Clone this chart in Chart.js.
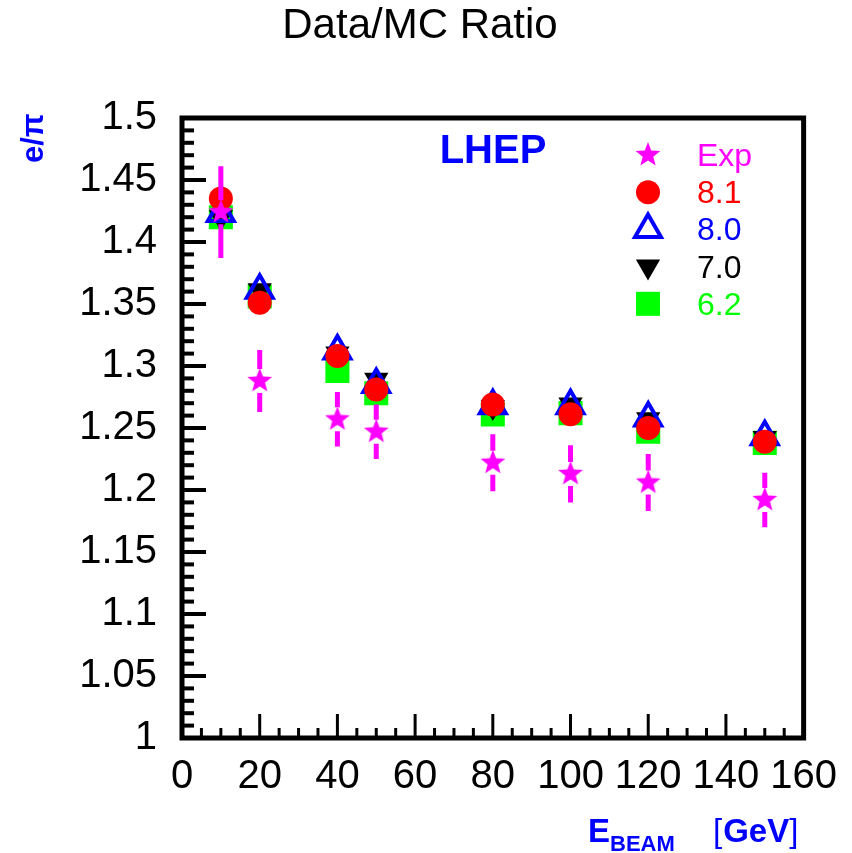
<!DOCTYPE html>
<html lang="en">
<head>
    <meta charset="UTF-8">
    <title>Data/MC Ratio</title>
    <script src="https://cdn.jsdelivr.net/npm/chart.js"></script>
    <style>
        body { margin: 0; background: #fff; }
    </style>
</head>
<body>
    <canvas id="ratioChart" width="852" height="853"></canvas>

    <script>
        // beam energies (GeV)
        const beamEnergy = [10, 20, 40, 50, 80, 100, 120, 150];

        // e/pi ratio, data and the four MC versions
        const expRatio = [1.424, 1.288, 1.257, 1.247, 1.222, 1.213, 1.206, 1.192];
        const expError = [0.037, 0.025, 0.022, 0.022, 0.023, 0.023, 0.023, 0.022];
        const mc81 = [1.435, 1.351, 1.308, 1.281, 1.269, 1.261, 1.250, 1.239];
        const mc80 = [1.423, 1.361, 1.312, 1.285, 1.268, 1.268, 1.258, 1.243];
        const mc70 = [1.420, 1.361, 1.310, 1.289, 1.267, 1.269, 1.257, 1.242];
        const mc62 = [1.420, 1.356, 1.296, 1.278, 1.261, 1.262, 1.247, 1.238];

        const seriesNames = ["Exp", "8.1", "8.0", "7.0", "6.2"];
        const seriesColors = ["#ff00ff", "#ff0000", "#0000ff", "#000000", "#00ff00"];

        const xTickValues = [0, 20, 40, 60, 80, 100, 120, 140, 160];
        const yTickValues = [1, 1.05, 1.1, 1.15, 1.2, 1.25, 1.3, 1.35, 1.4, 1.45, 1.5];

        const FONT = "'Liberation Sans', Arial, sans-serif";

        function toPoints(ys) {
            return beamEnergy.map((x, i) => ({ x: x, y: ys[i] }));
        }

        // filled five-point star, used as a point style
        function makeStar(color, outer, inner) {
            let c = document.createElement("canvas");
            let s = Math.ceil(outer * 2 + 2);
            c.width = s; c.height = s;
            let g = c.getContext("2d");
            g.fillStyle = color;
            g.beginPath();
            for (let k = 0; k < 10; k++) {
                let r = k % 2 ? inner : outer;
                let a = -Math.PI / 2 + k * Math.PI / 5;
                g.lineTo(s / 2 + r * Math.cos(a), s / 2 + r * Math.sin(a));
            }
            g.closePath();
            g.fill();
            return c;
        }
        const star = makeStar("#ff00ff", 13, 5.5);

        const markers = [
            { pointStyle: star, pointRadius: 13, pointBackgroundColor: "#ff00ff", pointBorderWidth: 0 },
            { pointStyle: "circle", pointRadius: 12, pointBackgroundColor: "#ff0000", pointBorderWidth: 0 },
            { pointStyle: "triangle", pointRadius: 15, pointBackgroundColor: "rgba(0,0,0,0)", pointBorderColor: "#0000ff", pointBorderWidth: 4 },
            { pointStyle: "triangle", pointRotation: 180, pointRadius: 14, pointBackgroundColor: "#000000", pointBorderWidth: 0 },
            { pointStyle: "rect", pointRadius: 17, pointBackgroundColor: "#00ff00", pointBorderWidth: 0 }
        ];
        const seriesValues = [expRatio, mc81, mc80, mc70, mc62];

        const datasets = seriesValues.map((vals, i) => Object.assign({
            label: seriesNames[i],
            data: toPoints(vals),
            showLine: false
        }, markers[i]));

        // error bars for Exp, drawn just before the stars so they sit over the MC markers
        const errorBars = {
            id: "errorBars",
            beforeDatasetDraw(chart, args) {
                if (args.index !== 0) return;
                let ctx = chart.ctx, xs = chart.scales.x, ys = chart.scales.y;
                ctx.save();
                ctx.strokeStyle = "#ff00ff";
                ctx.lineWidth = 5;
                beamEnergy.forEach((e, i) => {
                    let px = xs.getPixelForValue(e);
                    let pc = ys.getPixelForValue(expRatio[i]);
                    let pt = ys.getPixelForValue(expRatio[i] + expError[i]);
                    let pb = ys.getPixelForValue(expRatio[i] - expError[i]);
                    ctx.beginPath();
                    ctx.moveTo(px, pt); ctx.lineTo(px, pc - 12);
                    ctx.moveTo(px, pc + 12); ctx.lineTo(px, pb);
                    ctx.stroke();
                });
                ctx.restore();
            }
        };

        // frame, inward ticks, titles and legend
        const decorations = {
            id: "decorations",
            afterDraw(chart) {
                let ctx = chart.ctx, a = chart.chartArea;
                let xs = chart.scales.x, ys = chart.scales.y;
                ctx.save();
                ctx.strokeStyle = "#000";

                // y ticks (major every 0.05, minor every 0.01)
                for (let i = 0; i <= 50; i++) {
                    let py = ys.getPixelForValue(1 + i * 0.01);
                    let major = i % 5 === 0;
                    ctx.lineWidth = 4;
                    ctx.beginPath();
                    ctx.moveTo(a.left, py);
                    ctx.lineTo(a.left + (major ? 24 : 12), py);
                    ctx.stroke();
                }
                // x ticks (major every 20, minor every 5)
                for (let i = 0; i <= 32; i++) {
                    let px = xs.getPixelForValue(i * 5);
                    let major = i % 4 === 0;
                    ctx.lineWidth = 3;
                    ctx.beginPath();
                    ctx.moveTo(px, a.bottom);
                    ctx.lineTo(px, a.bottom - (major ? 24 : 10));
                    ctx.stroke();
                }
                ctx.lineWidth = 5;
                ctx.strokeRect(a.left, a.top, a.right - a.left, a.bottom - a.top);

                // title
                ctx.fillStyle = "#000";
                ctx.textAlign = "center";
                ctx.textBaseline = "alphabetic";
                ctx.font = "42px " + FONT;
                ctx.fillText("Data/MC Ratio", 420, 38);

                ctx.fillStyle = "#0000ff";
                ctx.font = "bold 40px " + FONT;
                ctx.fillText("LHEP", 493, 163);

                // y title
                ctx.save();
                ctx.translate(43, 163);
                ctx.rotate(-Math.PI / 2);
                ctx.textAlign = "left";
                ctx.font = "bold 31px " + FONT;
                ctx.fillText("e/\u03c0", 0, 0);
                ctx.restore();

                // x title
                ctx.textAlign = "left";
                let x = 588;
                ctx.font = "bold 33px " + FONT;
                ctx.fillText("E", x, 842);
                x += ctx.measureText("E").width;
                ctx.font = "bold 22px " + FONT;
                ctx.fillText("BEAM", x, 851);
                x = 713;
                ctx.font = "33px " + FONT;
                ctx.fillText("[", x, 842);
                x += ctx.measureText("[").width + 1;
                ctx.font = "bold 33px " + FONT;
                ctx.fillText("GeV", x, 842);
                x += ctx.measureText("GeV").width;
                ctx.font = "33px " + FONT;
                ctx.fillText("]", x, 842);

                // legend
                ctx.font = "32px " + FONT;
                seriesNames.forEach((name, i) => {
                    let ly = 155 + i * 37.2;
                    let m = markers[i];
                    ctx.fillStyle = m.pointBackgroundColor;
                    ctx.strokeStyle = m.pointBorderColor || m.pointBackgroundColor;
                    ctx.lineWidth = m.pointBorderWidth;
                    Chart.helpers.drawPoint(ctx, {
                        pointStyle: m.pointStyle,
                        radius: m.pointRadius,
                        rotation: m.pointRotation || 0,
                        borderWidth: m.pointBorderWidth
                    }, 648, ly);
                    ctx.fillStyle = seriesColors[i];
                    ctx.fillText(name, 697, ly + 11);
                });
                ctx.restore();
            }
        };

        new Chart(document.getElementById("ratioChart"), {
            type: "scatter",
            data: { datasets: datasets },
            options: {
                responsive: false,
                animation: false,
                events: [],
                layout: { padding: { top: 118, right: 47, left: 0, bottom: 0 } },
                plugins: { legend: { display: false }, tooltip: { enabled: false } },
                scales: {
                    x: {
                        type: "linear", min: 0, max: 160,
                        afterBuildTicks: s => { s.ticks = xTickValues.map(v => ({ value: v })); },
                        afterFit: s => { s.height = 115; },
                        grid: { display: false, drawTicks: false },
                        border: { display: false },
                        ticks: { autoSkip: false, maxRotation: 0, padding: 15, color: "#000", font: { family: FONT, size: 40 } }
                    },
                    y: {
                        type: "linear", min: 1, max: 1.5,
                        afterBuildTicks: s => { s.ticks = yTickValues.map(v => ({ value: v })); },
                        afterFit: s => { s.width = 182; },
                        grid: { display: false, drawTicks: false },
                        border: { display: false },
                        ticks: {
                            autoSkip: false, padding: 25, color: "#000", font: { family: FONT, size: 40 },
                            callback: v => String(Number(v.toFixed(2)))
                        }
                    }
                }
            },
            plugins: [errorBars, decorations]
        });
    </script>
</body>
</html>
